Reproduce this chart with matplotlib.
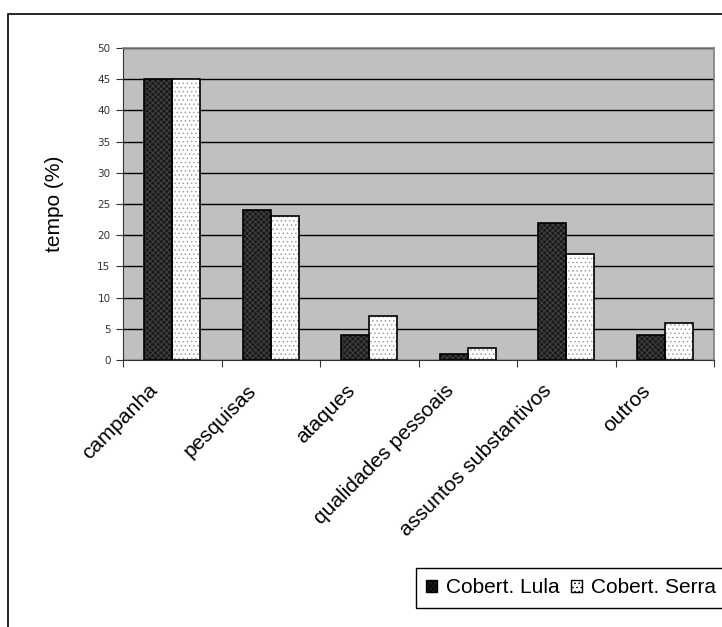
import numpy as np
import matplotlib
matplotlib.use("Agg")
import matplotlib.pyplot as plt
from matplotlib.patches import Rectangle, Patch
from matplotlib.transforms import ScaledTranslation

plt.rcParams["font.family"] = ["Liberation Sans", "DejaVu Sans"]
plt.rcParams["hatch.linewidth"] = 0.6

categories = ["campanha", "pesquisas", "ataques", "qualidades pessoais",
              "assuntos substantivos", "outros"]
lula = [45, 24, 4, 1, 22, 4]
serra = [45, 23, 7, 2, 17, 6]
y_ticks = list(range(0, 51, 5))

W, H = 722, 627
fig = plt.figure(figsize=(W / 100, H / 100), dpi=100)

# outer chart frame (top and left edges visible)
fig.patches.append(Rectangle((8 / W, -0.1), 1.2, 1 - 14 / H + 0.1,
                             transform=fig.transFigure, fill=False,
                             edgecolor="black", linewidth=1.2))

ax = fig.add_axes([123 / W, 1 - 360 / H, (714 - 123) / W, (360 - 48) / H])
ax.set_facecolor("#c0c0c0")

x = np.arange(len(categories))
bw = 0.285

# pattern layers first, then black outlines on top
ax.bar(x - bw / 2, lula, bw, color="#1a1a1a", edgecolor="#454545",
       hatch="xxxxxx", linewidth=0, zorder=3)
ax.bar(x + bw / 2, serra, bw, color="white", edgecolor="#a0a0a0",
       hatch="....", linewidth=0, zorder=3)
ax.bar(x - bw / 2, lula, bw, fill=False, edgecolor="black", linewidth=1.2, zorder=4)
ax.bar(x + bw / 2, serra, bw, fill=False, edgecolor="black", linewidth=1.2, zorder=4)

ax.set_xlim(-0.5, len(categories) - 0.5)
ax.set_ylim(0, 50)
ax.set_yticks(y_ticks)
ax.set_yticklabels([str(v) for v in y_ticks], fontsize=7.5,
                   family="DejaVu Sans", color="#333333")
ax.yaxis.grid(True, color="black", linewidth=1.0)
ax.set_axisbelow(True)

ax.set_xticks(np.arange(len(categories) + 1) - 0.5, minor=False)
ax.set_xticklabels([])
ax.set_xticks(x, minor=True)
ax.set_xticklabels(categories, minor=True, rotation=45, ha="right",
                   rotation_mode="anchor", fontsize=15)
ax.tick_params(axis="x", which="minor", length=0, pad=15)
ax.tick_params(axis="x", which="major", length=5, color="#333333")
ax.tick_params(axis="y", length=5, color="#333333", pad=4)

# shift rotated category labels left so their ends sit under the bars
shift = ScaledTranslation(-24 / 100, 0, fig.dpi_scale_trans)
for lbl in ax.get_xticklabels(minor=True):
    lbl.set_transform(lbl.get_transform() + shift)

for side in ["top", "right"]:
    ax.spines[side].set_color("#808080")
    ax.spines[side].set_linewidth(1.2)
ax.spines["left"].set_color("#333333")
ax.spines["bottom"].set_color("#333333")

ax.set_ylabel("tempo (%)", fontsize=15, labelpad=24)

handles = [Patch(facecolor="#1a1a1a", edgecolor="black", hatch="xxxxxx"),
           Patch(facecolor="white", edgecolor="black", hatch="....")]
fig.legend(handles, ["Cobert. Lula", "Cobert. Serra"], ncol=2,
           loc="upper left", bbox_to_anchor=(416 / W, 1 - 568 / H),
           fontsize=15, frameon=True, fancybox=False, edgecolor="black",
           framealpha=1, handlelength=0.5, handleheight=0.5,
           handletextpad=0.45, columnspacing=0.55, borderpad=0.5,
           borderaxespad=0)

fig.savefig("out.png", dpi=100)
